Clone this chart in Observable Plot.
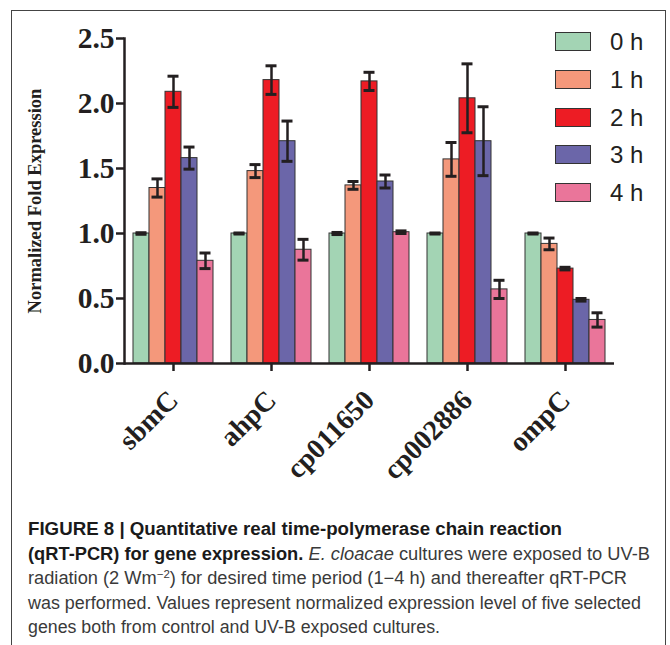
<!DOCTYPE html>
<html><head><meta charset="utf-8">
<script src="https://cdn.jsdelivr.net/npm/d3@7"></script>
<script src="https://cdn.jsdelivr.net/npm/@observablehq/plot@0.6"></script>
<style>
body{margin:0;background:#fff;}
#frame{position:absolute;left:11px;top:10px;width:655px;height:700px;border:1px solid #444;border-bottom:none;box-sizing:border-box;}
#chart{position:absolute;left:0;top:0;}
#legend{position:absolute;left:0;top:0;}
.sw{position:absolute;width:34px;height:17px;border:1.5px solid #333;}
.lt{position:absolute;font-family:"Liberation Sans",Arial,sans-serif;font-size:24px;color:#231f20;line-height:24px;white-space:nowrap;}
#caption{position:absolute;left:0;top:489px;}
</style></head><body>
<div id="frame"><div id="chart"></div><div id="legend"></div><svg id="caption" width="652" height="150"></svg></div>
<script>
const genes = ["sbmC","ahpC","cp011650","cp002886","ompC"];
const times = ["0 h","1 h","2 h","3 h","4 h"];
const colors = ["#a3d4b4","#f4987b","#ed1c24","#6b66a9","#ea759a"];
const expr0h = [1.00,1.00,1.00,1.00,1.00];
const expr1h = [1.35,1.48,1.37,1.57,0.92];
const expr2h = [2.09,2.18,2.17,2.04,0.73];
const expr3h = [1.58,1.71,1.40,1.71,0.49];
const expr4h = [0.79,0.875,1.01,0.57,0.335];
const err0h = [0.006,0.004,0.008,0.004,0.004];
const err1h = [0.07,0.05,0.03,0.13,0.045];
const err2h = [0.12,0.11,0.07,0.265,0.01];
const err3h = [0.085,0.155,0.05,0.265,0.01];
const err4h = [0.06,0.08,0.01,0.07,0.055];
const yTicks = [0,0.5,1,1.5,2,2.5];
const yLabel = "Normalized Fold Expression";

const series = [expr0h,expr1h,expr2h,expr3h,expr4h];
const errors = [err0h,err1h,err2h,err3h,err4h];
const data = [];
genes.forEach((g,gi)=>times.forEach((t,ti)=>{
  const v = series[ti][gi], e = errors[ti][gi];
  data.push({gene:g,time:t,value:v,lo:v-e,hi:v+e});
}));

const serif = "'Liberation Serif','Times New Roman',serif";
const ink = "#231f20";
const chart = Plot.plot({
  width: 652, height: 480,
  marginTop: 27, marginBottom: 128, marginLeft: 110, marginRight: 49,
  style: {fontFamily: serif, color: ink, background: "transparent"},
  fx: {domain: genes, padding: 0, label: null, axis: null},
  x: {domain: times, paddingInner: 0, paddingOuter: 0.543, axis: null},
  y: {domain: [0, 2.5], label: null},
  color: {domain: times, range: colors},
  marks: [
    Plot.barY(data, {fx: "gene", x: "time", y: "value", fill: "time", stroke: "#333", strokeWidth: 1}),
    Plot.ruleX(data, {fx: "gene", x: "time", y1: "lo", y2: "hi", stroke: ink, strokeWidth: 2.5}),
    Plot.tickY(data, {fx: "gene", x: "time", y: "lo", stroke: ink, strokeWidth: 3, inset: 2.5}),
    Plot.tickY(data, {fx: "gene", x: "time", y: "hi", stroke: ink, strokeWidth: 3, inset: 2.5}),
    Plot.ruleY([0], {stroke: ink, strokeWidth: 2.5}),
    Plot.frame({anchor: "left", facetAnchor: "left", stroke: ink, strokeWidth: 2.5}),
    Plot.axisY({ticks: yTicks, tickFormat: d3.format(".1f"), tickSize: 8, tickPadding: 2, strokeWidth: 2.5, stroke: ink, fill: ink, fontSize: 29.5, fontWeight: "bold", label: null}),
    Plot.axisY({ticks: [], label: yLabel, labelArrow: "none", labelAnchor: "center", labelOffset: 97, fontSize: 18.5, fontWeight: "bold", fill: ink, dy: 6}),
    Plot.axisFx({anchor: "bottom", tickSize: 8, tickPadding: 24, tickRotate: -45, strokeWidth: 2.5, stroke: ink, fill: ink, fontSize: 28, fontWeight: "bold", label: null})
  ]
});
document.getElementById("chart").appendChild(chart);

// legend
const leg = document.getElementById("legend");
times.forEach((t,i)=>{
  const cy = 31 + i*37.75;
  const s = document.createElement("div");
  s.className = "sw"; s.style.left = "543px"; s.style.top = (cy-10)+"px"; s.style.background = colors[i];
  leg.appendChild(s);
  const l = document.createElement("div");
  l.className = "lt"; l.style.left = "598px"; l.style.top = (cy-12)+"px"; l.textContent = t;
  leg.appendChild(l);
});

// caption
const cap = d3.select("#caption");
const capFont = "'Liberation Sans',Arial,sans-serif";
const lines = [
  {w:534, parts:[{t:"FIGURE 8 | Quantitative real time-polymerase chain reaction", b:true}]},
  {w:622, parts:[{t:"(qRT-PCR) for gene expression. ", b:true},{t:"E. cloacae", i:true},{t:" cultures were exposed to UV-B"}]},
  {w:599, parts:[{t:"radiation (2 Wm"},{t:"−2", sup:true},{t:") for desired time period (1−4 h) and thereafter qRT-PCR"}]},
  {w:613, parts:[{t:"was performed. Values represent normalized expression level of five selected"}]},
  {w:412, parts:[{t:"genes both from control and UV-B exposed cultures."}]}
];
lines.forEach((ln,i)=>{
  const tx = cap.append("text").attr("x",16).attr("y",35+i*24.5)
    .attr("font-family",capFont).attr("font-size",17.5).attr("fill","#3a3a3a")
    .attr("textLength",ln.w).attr("lengthAdjust","spacingAndGlyphs");
  ln.parts.forEach(p=>{
    const ts = tx.append("tspan").text(p.t);
    if(p.b) ts.attr("font-weight","bold").attr("fill","#1a1a1a");
    if(p.i) ts.attr("font-style","italic");
    if(p.sup) ts.attr("font-size",11).attr("baseline-shift","super");
  });
});
</script>
</body></html>
